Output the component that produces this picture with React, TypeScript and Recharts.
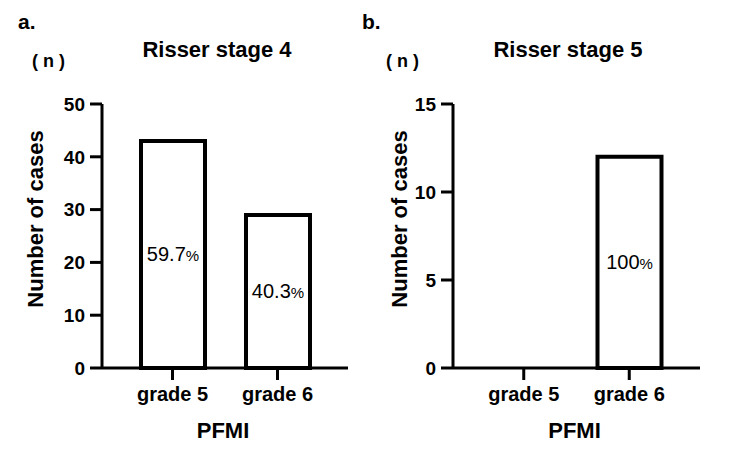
import { BarChart, Bar, XAxis, YAxis, LabelList } from 'recharts';

const categories = ['grade 5', 'grade 6'];
const stage4Counts = [43, 29];
const stage4Pct = ['59.7', '40.3'];
const stage5Counts = [0, 12];
const stage5Pct = ['', '100'];
const stage4Ticks = [0, 10, 20, 30, 40, 50];
const stage5Ticks = [0, 5, 10, 15];

const FONT = '"Liberation Sans", Arial, sans-serif';

const stage4Data = categories.map((name, i) => ({ name, count: stage4Counts[i], pct: stage4Pct[i] }));
const stage5Data = categories.map((name, i) => ({ name, count: stage5Counts[i], pct: stage5Pct[i] }));

const PctLabel = (props: any) => {
  const { x, y, width, height, value } = props;
  if (!value) return null;
  return (
    <text
      x={x + width / 2}
      y={y + height / 2 + 7}
      textAnchor="middle"
      fontFamily={FONT}
      fill="#000"
    >
      <tspan fontSize={20}>{value}</tspan>
      <tspan fontSize={15}>%</tspan>
    </text>
  );
};

const YTitle = (props: any) => {
  const { labelX } = props;
  const cy = 219;
  return (
    <text
      x={labelX}
      y={cy}
      transform={`rotate(-90, ${labelX}, ${cy})`}
      textAnchor="middle"
      dominantBaseline="central"
      fontFamily={FONT}
      fontWeight="bold"
      fontSize={22}
      fill="#000"
    >
      Number of cases
    </text>
  );
};

const XTitle = (props: any) => {
  const { viewBox } = props;
  return (
    <text
      x={viewBox.x + viewBox.width / 2 - 2}
      y={438}
      textAnchor="middle"
      fontFamily={FONT}
      fontWeight="bold"
      fontSize={22}
      fill="#000"
    >
      PFMI
    </text>
  );
};

type PanelProps = {
  left: number;
  letter: string;
  letterX: number;
  title: string;
  titleX: number;
  nX: number;
  data: any[];
  max: number;
  ticks: number[];
  plotLeft: number;
  plotRight: number;
  yLabelX: number;
};

const Panel = (p: PanelProps) => (
  <div style={{ position: 'absolute', left: p.left, top: 0, width: 375, height: 458 }}>
    <div style={{ position: 'absolute', left: p.letterX, top: 9, fontFamily: FONT, fontWeight: 'bold', fontSize: 21, lineHeight: '25px' }}>
      {p.letter}
    </div>
    <div style={{ position: 'absolute', left: p.titleX - 100, width: 200, top: 37, textAlign: 'center', fontFamily: FONT, fontWeight: 'bold', fontSize: 22, lineHeight: '26px' }}>
      {p.title}
    </div>
    <div style={{ position: 'absolute', left: p.nX, top: 50, fontFamily: FONT, fontWeight: 'bold', fontSize: 18, lineHeight: '22px', whiteSpace: 'pre' }}>
      {'( n )'}
    </div>
    <BarChart
      width={375}
      height={458}
      data={p.data}
      margin={{ top: 104, right: 375 - p.plotRight, bottom: 60, left: p.plotLeft - 40 }}
      style={{ position: 'absolute', left: 0, top: 0 }}
    >
      <XAxis
        dataKey="name"
        height={30}
        padding={{ left: 18, right: 18 }}
        axisLine={{ stroke: '#000', strokeWidth: 3 }}
        tickLine={{ stroke: '#000', strokeWidth: 3 }}
        tickSize={12}
        tickMargin={7}
        tick={{ fill: '#000', fontFamily: FONT, fontWeight: 'bold', fontSize: 20 }}
        label={<XTitle />}
      />
      <YAxis
        width={40}
        domain={[0, p.max]}
        ticks={p.ticks}
        interval={0}
        axisLine={{ stroke: '#000', strokeWidth: 3 }}
        tickLine={{ stroke: '#000', strokeWidth: 3 }}
        tickSize={12}
        tickMargin={5}
        tick={{ fill: '#000', fontFamily: FONT, fontWeight: 'bold', fontSize: 19 }}
        label={<YTitle labelX={p.yLabelX} />}
      />
      <Bar dataKey="count" barSize={64} fill="#fff" stroke="#000" strokeWidth={4} isAnimationActive={false}>
        <LabelList dataKey="pct" content={<PctLabel />} />
      </Bar>
    </BarChart>
  </div>
);

export default function App() {
  return (
    <div style={{ position: 'absolute', left: 0, top: 0, width: 750, height: 458, background: '#fff' }}>
      <Panel
        left={0}
        letter="a."
        letterX={18}
        title="Risser stage 4"
        titleX={217}
        nX={32}
        data={stage4Data}
        max={50}
        ticks={stage4Ticks}
        plotLeft={102}
        plotRight={348}
        yLabelX={35}
      />
      <Panel
        left={375}
        letter="b."
        letterX={-13}
        title="Risser stage 5"
        titleX={193}
        nX={11}
        data={stage5Data}
        max={15}
        ticks={stage5Ticks}
        plotLeft={78}
        plotRight={325}
        yLabelX={24}
      />
    </div>
  );
}
